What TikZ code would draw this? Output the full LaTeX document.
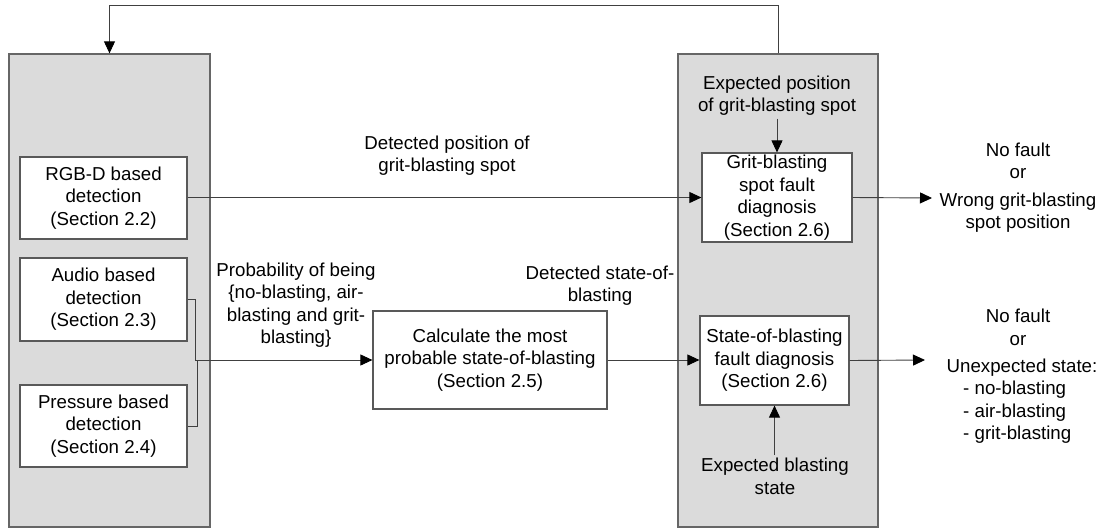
\documentclass[tikz,border=0pt]{standalone}
\usepackage{fontspec}
\setmainfont{Liberation Sans}
\usetikzlibrary{arrows.meta}
\begin{document}
\begin{tikzpicture}[x=1pt,y=-1pt,
  every node/.style={font=\fontsize{18.7}{22.5}\selectfont, align=center},
  graybox/.style={draw=black!60, fill=black!14, line width=1.3pt, inner sep=0pt},
  whitebox/.style={draw=black!65, fill=white, line width=1.2pt, inner sep=0pt},
  lbl/.style={inner sep=3pt},
  conn/.style={draw=black!75, line width=0.9pt},
  arr/.style={conn, -{Triangle[length=12pt,width=11pt,color=black]}}
]
\useasboundingbox (0,0) rectangle (1104,531);

% gray containers
\node[graybox, minimum width=201pt, minimum height=473pt] (lgray) at (109.5,290.5) {};
\node[graybox, minimum width=200pt, minimum height=473pt] (rgray) at (778,290.5) {};

% detection boxes
\node[whitebox, minimum width=167pt, minimum height=82pt] (rgbd) at (103.5,198) {RGB-D based\\detection\\(Section 2.2)};
\node[whitebox, minimum width=167pt, minimum height=83pt] (audio) at (103.5,299.5) {Audio based\\detection\\(Section 2.3)};
\node[whitebox, minimum width=167pt, minimum height=82pt] (press) at (103.5,426) {Pressure based\\detection\\(Section 2.4)};

% calculation box
\node[whitebox, minimum width=234pt, minimum height=98pt] (calc) at (490,360) {Calculate the most\\probable state-of-blasting\\(Section 2.5)};

% diagnosis boxes
\node[whitebox, minimum width=150pt, minimum height=89pt] (grit) at (777,197.5) {Grit-blasting\\spot fault\\diagnosis\\(Section 2.6)};
\node[whitebox, minimum width=149pt, minimum height=89pt] (state) at (774.5,360.5) {State-of-blasting\\fault diagnosis\\(Section 2.6)};

% labels
\node[lbl] (ldetpos) at (447,155.5) {Detected position of\\grit-blasting spot};
\node[lbl] (lprob) at (296,305) {Probability of being\\\{no-blasting, air-\\blasting and grit-\\blasting\}};
\node[lbl] (ldetstate) at (600,285.5) {Detected state-of-\\blasting};
\node[lbl] (lexppos) at (777,95.5) {Expected position\\of grit-blasting spot};
\node[lbl] (lexpstate) at (775,476.5) {Expected blasting\\state};

% outputs
\node[lbl] (out1) at (1018,187.5) {No fault\\or\\[5pt]Wrong grit-blasting\\spot position};
\node[lbl] (out2) at (1018,343) {No fault\\or\\[5pt]\hspace*{8pt}Unexpected state:};
\node[lbl, align=left, anchor=west, inner sep=0pt] (out2list) at (963,412.5) {- no-blasting\\- air-blasting\\- grit-blasting};

% coordinates
\coordinate (top) at (778,5);
\coordinate (ja) at (195,360);
\coordinate (jp) at (197,360);
\coordinate (o1) at (932,198);
\coordinate (o2) at (925,360);

% connectors
\draw[arr] (rgray.north) |- (top) -| (lgray.north);
\draw[arr] (rgbd.east |- grit.west) -- (grit.west);
\draw[conn] (audio.east) -| (ja);
\draw[conn] (press.east) -| (jp);
\draw[arr] (ja) -- (calc.west);
\draw[arr] (calc.east) -- (calc.east -| state.west);
\draw[arr] (lexppos.south -| grit.north) -- (grit.north);
\draw[arr] (lexpstate.north -| state.south) -- (state.south);
\draw[arr] (grit.east) -- (o1);
\draw[arr] (state.east) -- (o2);
\end{tikzpicture}
\end{document}
